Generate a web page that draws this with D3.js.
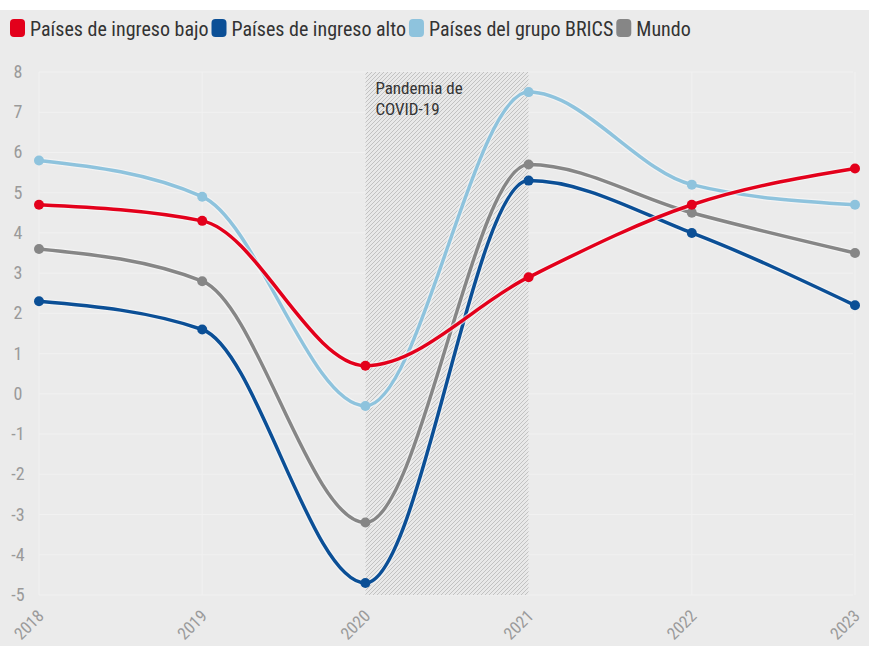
<!DOCTYPE html>
<html><head><meta charset="utf-8">
<script src="https://cdn.jsdelivr.net/npm/d3@7"></script>
<style>
html,body{margin:0;padding:0;background:#fff;}
svg{display:block;}
</style></head>
<body>
<svg id="chart" width="871" height="646"></svg>
<script>
const years = ["2018","2019","2020","2021","2022","2023"];
const seriesNames = ["Países de ingreso bajo","Países de ingreso alto","Países del grupo BRICS","Mundo"];
const seriesColors = ["#e3001b","#0b4f96","#8ec3dd","#868686"];
const bajo  = [4.7, 4.3, 0.7, 2.9, 4.7, 5.6];
const alto  = [2.3, 1.6, -4.7, 5.3, 4.0, 2.2];
const brics = [5.8, 4.9, -0.3, 7.5, 5.2, 4.7];
const mundo = [3.6, 2.8, -3.2, 5.7, 4.5, 3.5];
const yTicks = [8,7,6,5,4,3,2,1,0,-1,-2,-3,-4,-5];
const covidRange = ["2020","2021"];
const covidLabel = ["Pandemia de","COVID-19"];

const font = "'Roboto Condensed','Liberation Sans Narrow',Roboto,sans-serif";
const svg = d3.select("#chart");
const W = 871, H = 646;

svg.append("rect").attr("x",0).attr("y",10).attr("width",869).attr("height",H-10).attr("fill","#ebebeb");

const x = d3.scalePoint().domain(years).range([39, 855]);
const y = d3.scaleLinear().domain([-5, 8]).range([595, 72]);

// pattern
const defs = svg.append("defs");
const pat = defs.append("pattern").attr("id","hatch").attr("patternUnits","userSpaceOnUse")
  .attr("width",4).attr("height",4);
pat.append("rect").attr("width",4).attr("height",4).attr("fill","#e9e9e9");
pat.append("path").attr("d","M-1,1 l2,-2 M0,4 l4,-4 M3,5 l2,-2").attr("stroke","#c2c2c2").attr("stroke-width",1);

// grid
const g = svg.append("g");
g.selectAll("line.h").data(yTicks).join("line")
  .attr("x1",39).attr("x2",853).attr("y1",d=>y(d)).attr("y2",d=>y(d))
  .attr("stroke","#f1f1f1").attr("stroke-width",1);
g.selectAll("line.v").data(years).join("line")
  .attr("x1",d=>x(d)).attr("x2",d=>x(d)).attr("y1",y(8)).attr("y2",y(-5))
  .attr("stroke","#f1f1f1").attr("stroke-width",1);

// covid band
svg.append("rect").attr("x",x(covidRange[0])).attr("width",x(covidRange[1])-x(covidRange[0]))
  .attr("y",y(8)).attr("height",y(-5)-y(8)).attr("fill","url(#hatch)");
svg.append("text").attr("x",x(covidRange[0])+10).attr("y",y(8)+22)
  .attr("font-family",font).attr("font-size",17).attr("fill","#333")
  .selectAll("tspan").data(covidLabel).join("tspan")
  .attr("x",x(covidRange[0])+10).attr("dy",(d,i)=>i?21:0).text(d=>d);

// y labels
svg.selectAll("text.yl").data(yTicks).join("text")
  .attr("x",18).attr("y",d=>y(d)+6).attr("text-anchor","middle")
  .attr("font-family",font).attr("font-size",18).attr("fill","#9a9a9a").text(d=>d);

// x labels
svg.selectAll("text.xl").data(years).join("text")
  .attr("transform",d=>`translate(${x(d)+6},${617}) rotate(-45)`)
  .attr("text-anchor","end")
  .attr("font-family",font).attr("font-size",17).attr("fill","#9a9a9a").text(d=>d);

// lines
const allSeries = [bajo, alto, brics, mundo];
const line = d3.line().x((d,i)=>x(years[i])).y(d=>y(d)).curve(d3.curveMonotoneX);
const order = [2,3,1,0];
order.forEach(si=>{
  const s = allSeries[si];
  svg.append("path").attr("d",line(s)).attr("fill","none").attr("stroke","#f7f7f7")
    .attr("stroke-width",6).attr("stroke-opacity",0.7);
  svg.append("path").attr("d",line(s)).attr("fill","none").attr("stroke",seriesColors[si])
    .attr("stroke-width",3.5);
  svg.selectAll(null).data(s).join("circle")
    .attr("cx",(d,i)=>x(years[i])).attr("cy",d=>y(d)).attr("r",5)
    .attr("fill",seriesColors[si]);
});

// legend
const leg = svg.append("g");
let lx = 10;
seriesNames.forEach((n,i)=>{
  leg.append("rect").attr("x",lx).attr("y",19).attr("width",15).attr("height",18).attr("rx",4)
    .attr("fill",seriesColors[i]);
  const t = leg.append("text").attr("x",lx+20).attr("y",36).attr("font-family",font)
    .attr("font-size",20).attr("fill","#333").text(n);
  lx += 20 + t.node().getComputedTextLength() + 3;
});
</script>
</body></html>
